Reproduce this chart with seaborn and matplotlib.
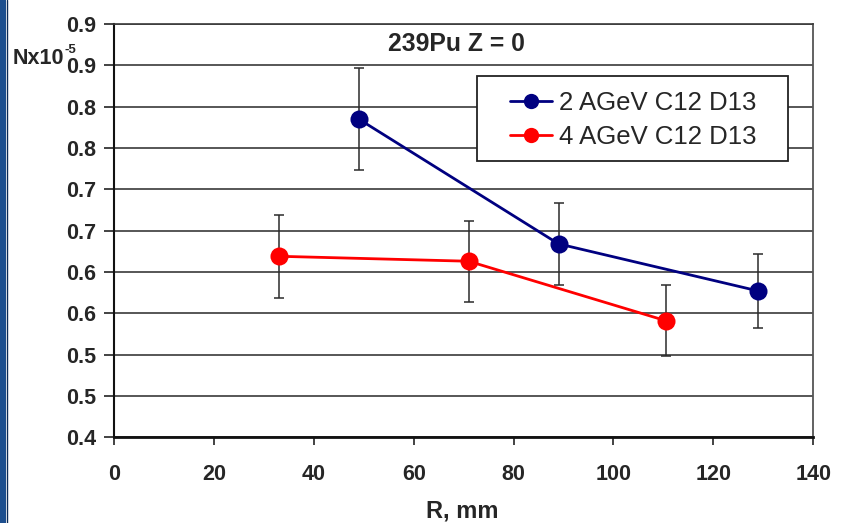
import matplotlib
matplotlib.use("Agg")
import matplotlib.pyplot as plt
from matplotlib.patches import Rectangle
from matplotlib.lines import Line2D
import seaborn as sns
import pandas as pd

# ---- data ----
series_names = ["2 AGeV C12 D13", "4 AGeV C12 D13"]
x_2agev = [49, 89, 129]
y_2agev = [0.785, 0.634, 0.577]
err_2agev = [0.062, 0.050, 0.045]
x_4agev = [33, 71, 110.5]
y_4agev = [0.619, 0.613, 0.541]
err_4agev = [0.050, 0.049, 0.043]
y_ticks = [0.40, 0.45, 0.50, 0.55, 0.60, 0.65, 0.70, 0.75, 0.80, 0.85, 0.90]
y_tick_labels = ["0.4", "0.5", "0.5", "0.6", "0.6", "0.7", "0.7", "0.8", "0.8", "0.9", "0.9"]
x_ticks = [0, 20, 40, 60, 80, 100, 120, 140]
title_text = "239Pu Z = 0"
x_label = "R, mm"
colors = ["#000080", "#ff0000"]

sns.set_style("white")
plt.rcParams['font.family'] = ['Liberation Sans', 'DejaVu Sans']

W, H = 845, 523
fig = plt.figure(figsize=(W / 100, H / 100), dpi=100)
ax = fig.add_axes([114 / W, 1 - 437.3 / H, (813.3 - 114) / W, (437.3 - 24) / H])

df = pd.concat([
    pd.DataFrame({"R": x_2agev, "N": y_2agev, "err": err_2agev, "series": series_names[0]}),
    pd.DataFrame({"R": x_4agev, "N": y_4agev, "err": err_4agev, "series": series_names[1]}),
])

for name, col in zip(series_names, colors):
    d = df[df["series"] == name]
    ax.errorbar(d["R"], d["N"], yerr=d["err"], fmt="none", ecolor="#2b2b2b",
                elinewidth=1.1, capsize=3.4, capthick=1.1, zorder=3)
    sns.lineplot(data=d, x="R", y="N", color=col, marker="o", markersize=13,
                 markeredgewidth=0, linewidth=2.0, sort=False, ax=ax, zorder=4,
                 legend=False)

ax.set_xlim(0, 140)
ax.set_ylim(0.40, 0.90)
ax.set_xticks(x_ticks)
ax.set_xticklabels([str(t) for t in x_ticks], fontsize=15.5, fontweight="bold")
ax.set_yticks(y_ticks)
ax.set_yticklabels(y_tick_labels, fontsize=15.5, fontweight="bold")
ax.tick_params(axis="y", direction="out", length=7, width=1.2, pad=6, left=True, color="#222")
ax.tick_params(axis="x", direction="out", length=6, width=1.2, pad=13, bottom=True, color="#222")
ax.set_xlabel("")
ax.set_ylabel("")
ax.yaxis.grid(True, color="#3a3a3a", linewidth=1.2)
ax.xaxis.grid(False)
ax.set_axisbelow(True)
ax.spines["left"].set_color("#111")
ax.spines["left"].set_linewidth(1.5)
ax.spines["bottom"].set_color("#111")
ax.spines["bottom"].set_linewidth(2.0)
ax.spines["right"].set_color("#555")
ax.spines["right"].set_linewidth(1.3)
ax.spines["top"].set_color("#3a3a3a")
ax.spines["top"].set_linewidth(1.2)

# texts
fig.text(456.5 / W, 1 - 44 / H, title_text, fontsize=17.8, fontweight="bold",
         ha="center", va="center")
fig.text(462 / W, 1 - 511 / H, x_label, fontsize=17, fontweight="bold",
         ha="center", va="center")
fig.text(13 / W, 1 - 64 / H, "Nx10", fontsize=15.5, fontweight="bold",
         ha="left", va="baseline")
fig.text(64.5 / W, 1 - 53 / H, "-5", fontsize=9.5, fontweight="bold",
         ha="left", va="baseline")

# legend
handles = [Line2D([], [], color=c, marker="o", markersize=11, markeredgewidth=0,
                  linewidth=2.0) for c in colors]
fig.patches.append(Rectangle((477 / W, 1 - 160.7 / H), (788 - 477) / W, (160.7 - 75.7) / H,
                             transform=fig.transFigure, facecolor="white",
                             edgecolor="#222", linewidth=1.3, zorder=5))
leg = fig.legend(handles=handles, labels=series_names, loc="center left",
                 bbox_to_anchor=(510 / W, 1 - 120.3 / H), bbox_transform=fig.transFigure,
                 frameon=False, fontsize=18.5, borderpad=0, handlelength=1.63,
                 handletextpad=0.27, labelspacing=0.38, borderaxespad=0)
leg.set_zorder(6)

# left decorative stripe
fig.patches.append(Rectangle((0, 0), 6.5 / W, 1, transform=fig.transFigure,
                             facecolor="#1d4f8e", edgecolor="none", zorder=0))
fig.lines.append(Line2D([7 / W, 7 / W], [0, 1], transform=fig.transFigure,
                        color="#0b2a55", linewidth=1.0))

fig.savefig("out.png", dpi=100)
